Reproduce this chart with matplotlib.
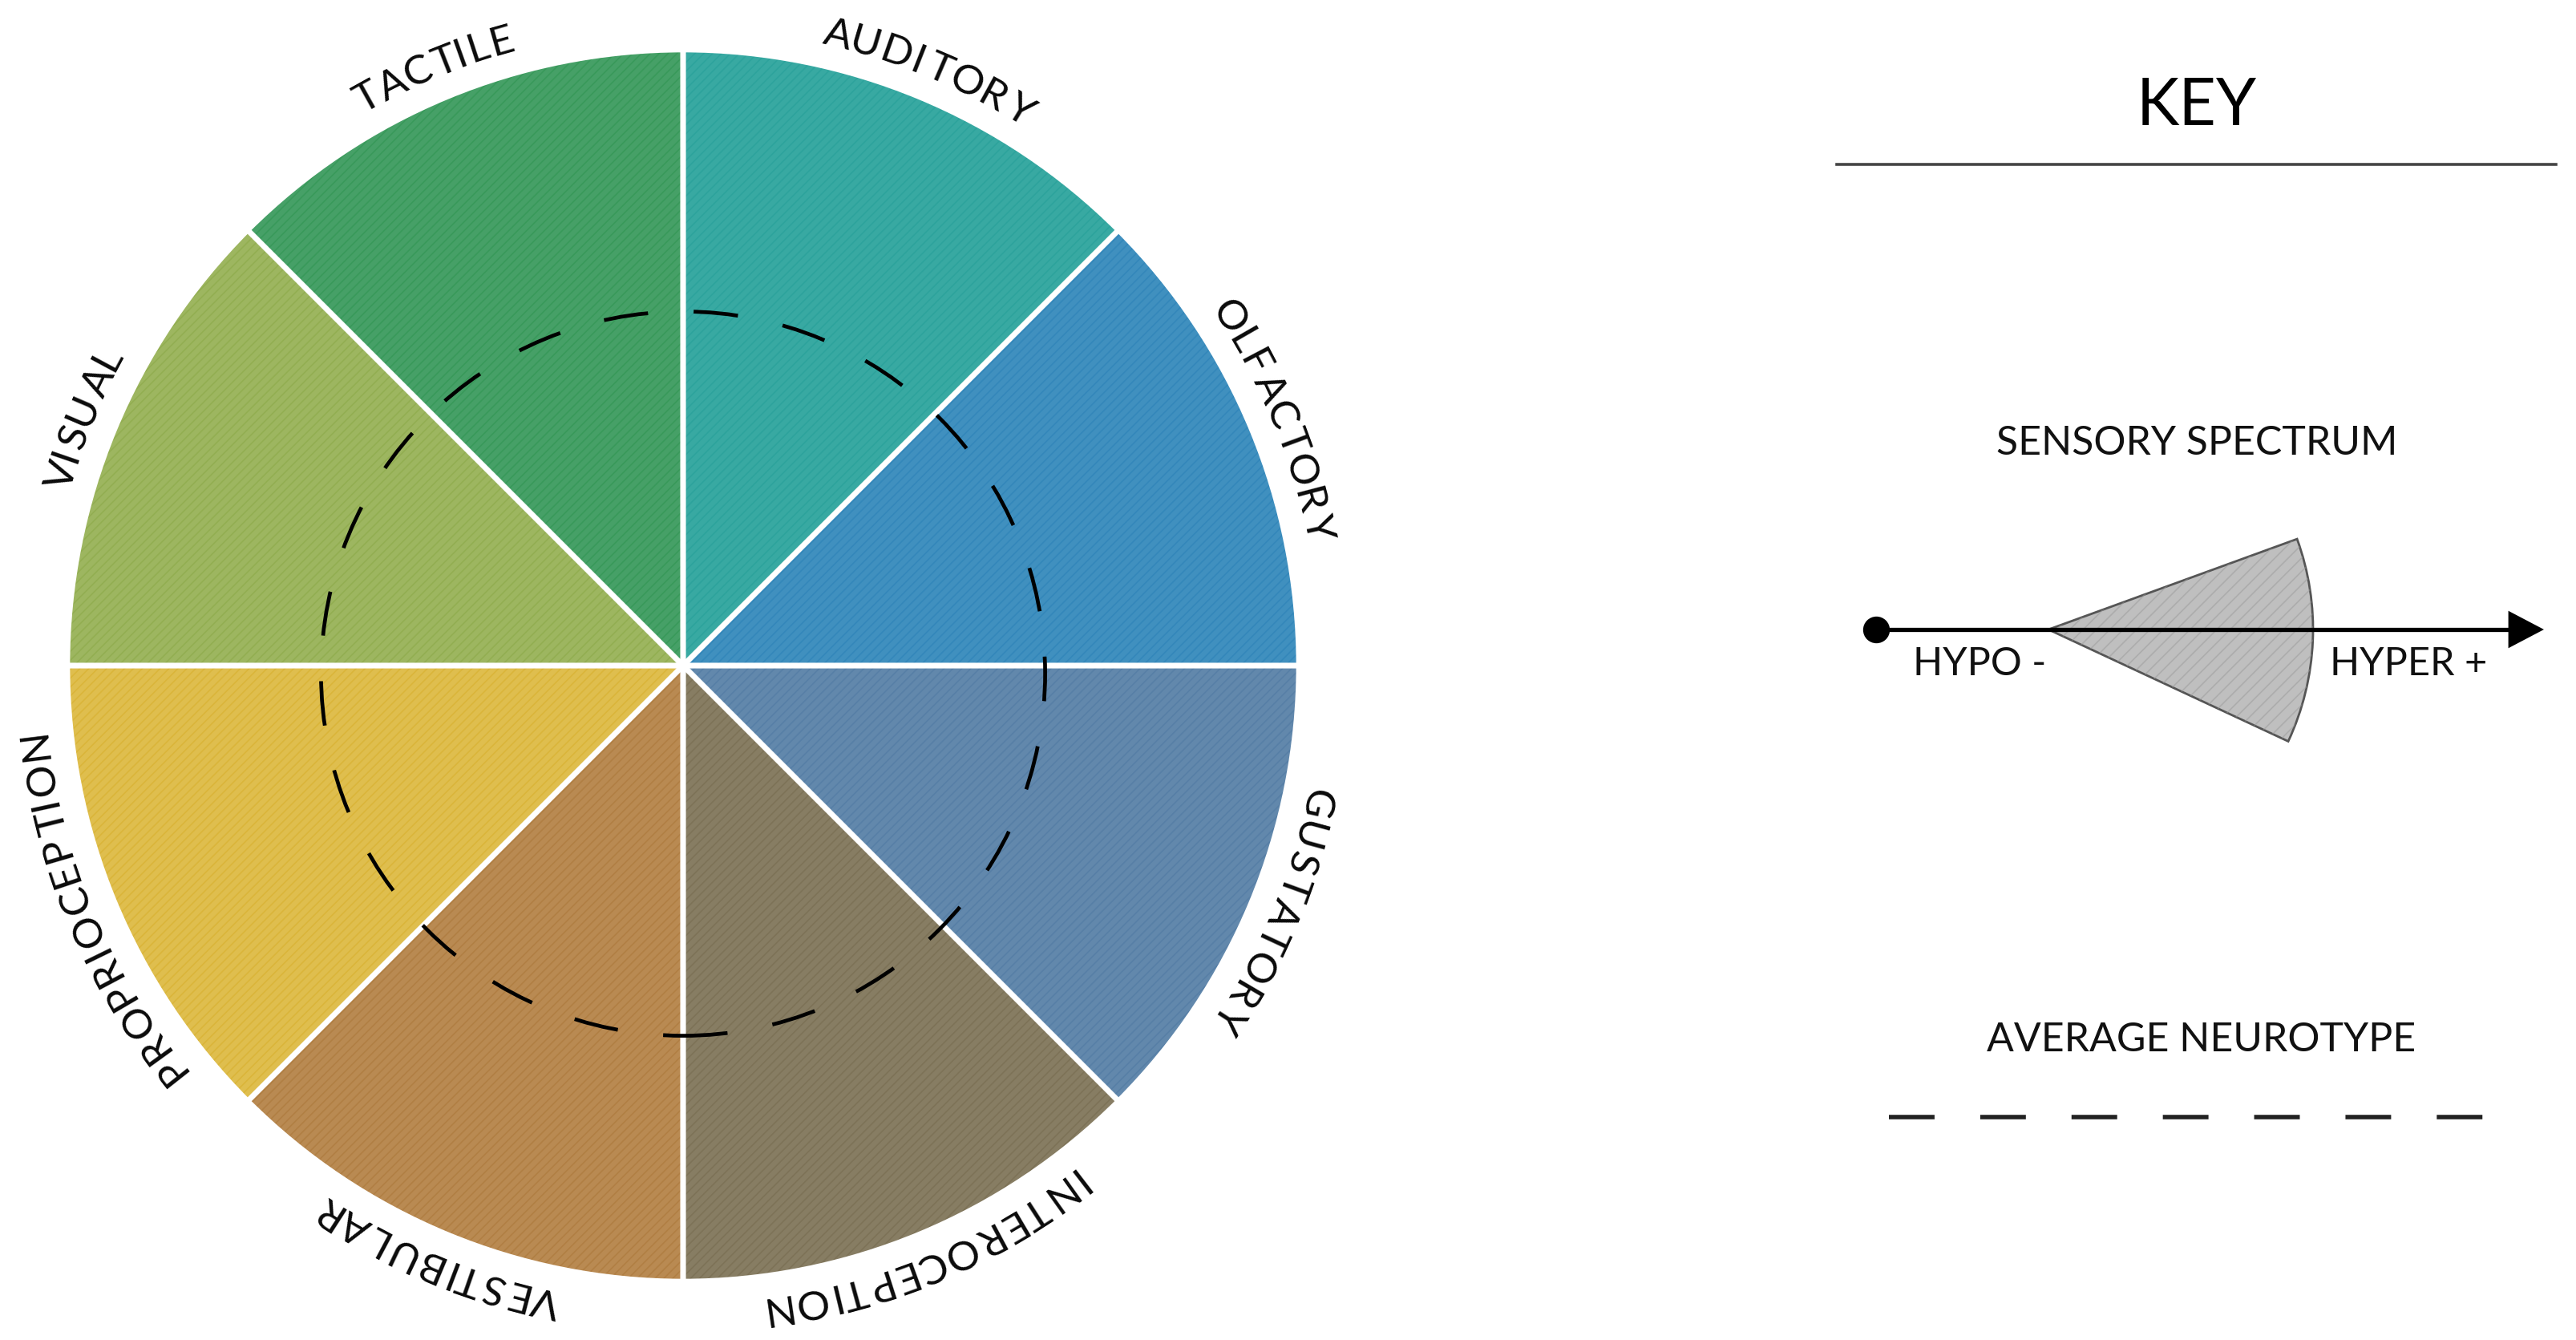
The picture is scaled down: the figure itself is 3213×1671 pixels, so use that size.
import numpy as np
import matplotlib
matplotlib.use("Agg")
import matplotlib.pyplot as plt
from matplotlib.patches import Wedge, Circle
from matplotlib.font_manager import FontProperties, findfont
from matplotlib.ft2font import FT2Font

FONT = ["Lato", "DejaVu Sans"]
plt.rcParams['font.family'] = FONT

# data
senses = ['AUDITORY', 'OLFACTORY', 'GUSTATORY', 'INTEROCEPTION',
          'VESTIBULAR', 'PROPRIOCEPTION', 'VISUAL', 'TACTILE']
share = [1, 1, 1, 1, 1, 1, 1, 1]
colors = ['#38A9A2', '#4090BF', '#6288AC', '#877D63',
          '#B98A52', '#DFBE4E', '#9DB660', '#46A067']
hatch_colors = ['#249E98', '#2A80B6', '#4E78A2', '#756A4E',
                '#AA7638', '#D6AE2A', '#8AA846', '#2E9450']
average_level = 0.588          # dashed circle, fraction of full radius
key_title = 'KEY'
spectrum_title = 'SENSORY SPECTRUM'
spectrum_low = 'HYPO -'
spectrum_high = 'HYPER +'
average_title = 'AVERAGE NEUROTYPE'
spectrum_wedge = (-25, 20)     # degrees of the example wedge

W, H = 3213, 1671
DPI = 200


def Y(py):
    return H - py


fig = plt.figure(figsize=(W / DPI, H / DPI), dpi=DPI)
ax = fig.add_axes([0, 0, 1, 1])

cx, cy, R = 852, Y(830), 768

# base wheel
ax.pie(share, colors=colors, startangle=90, counterclock=False,
       center=(cx, cy), radius=R, frame=True,
       wedgeprops=dict(linewidth=0))
# pencil texture
plt.rcParams['hatch.linewidth'] = 0.6
hw, _ = ax.pie(share, colors=['none'] * 8, startangle=90, counterclock=False,
               center=(cx, cy), radius=R, frame=True,
               wedgeprops=dict(linewidth=0))
for w, hc in zip(hw, hatch_colors):
    w.set_hatch('//////')
    w.set_edgecolor(hc)
    w.set_alpha(0.55)
# white separators
ax.pie(share, colors=['none'] * 8, startangle=90, counterclock=False,
       center=(cx, cy), radius=R, frame=True,
       wedgeprops=dict(linewidth=2.4, edgecolor='white', facecolor='none'))
ax.set_xlim(0, W)
ax.set_ylim(0, H)
ax.axis('off')

# average neurotype ring
lw = 1.7
ax.add_patch(Circle((cx, cy - 10), R * average_level, fill=False, color='black',
                    linewidth=lw, linestyle=(0, (20 / lw, 20.5 / lw)), zorder=5))

# curved labels, one glyph at a time
fig.canvas.draw()
renderer = fig.canvas.get_renderer()
label_size = 18.5
fp = FontProperties(family=FONT, size=label_size)
ft = FT2Font(findfont(fp))
ft.set_size(label_size, DPI)
r_base = 795
gap = 2.0


def glyph_w(ch):
    return renderer.get_text_width_height_descent(ch, fp, ismath=False)[0]


def glyph_off(ch):
    # agg shifts the glyph by its left bearing without rotating that shift
    ft.set_text(ch, 0.0)
    return ft.get_bitmap_offset()[0] / 64.0


for i, name in enumerate(senses):
    mid = 90 - 45 * i - 22.5
    gw = [glyph_w(ch) for ch in name]
    total = sum(gw) + gap * (len(name) - 1)
    pos = 0.0
    for k, ch in enumerate(name):
        s = pos + gw[k] / 2 - total / 2
        pos += gw[k] + gap
        th = mid - np.degrees(s / r_base)
        x = cx + r_base * np.cos(np.radians(th)) - glyph_off(ch)
        y = cy + r_base * np.sin(np.radians(th))
        ax.text(x, y, ch, fontproperties=fp, rotation=th - 90,
                rotation_mode='anchor', ha='center', va='baseline',
                color='#0A0A0A')

# key
kx = 2740
ax.text(kx, Y(133), key_title, fontsize=29, ha='center', va='center', color='black')
ax.plot([2291, 3188], [Y(205), Y(205)], color='#444444', linewidth=1.3)

ax.text(kx, Y(553), spectrum_title, fontsize=18, ha='center', va='center', color='#111111')

ay = Y(785)
ax.add_patch(Wedge((2555, ay), 330, spectrum_wedge[0], spectrum_wedge[1],
                   facecolor='#BFBFBF', edgecolor='#555555', linewidth=1.0, zorder=3))
tex = Wedge((2555, ay), 330, spectrum_wedge[0], spectrum_wedge[1],
            facecolor='none', edgecolor='#9A9A9A', linewidth=0, hatch='////', zorder=3)
tex.set_alpha(0.5)
ax.add_patch(tex)
ax.plot([2340, 3135], [ay, ay], color='black', linewidth=1.9, zorder=4)
ax.plot([2340], [ay], 'o', color='black', markersize=11, zorder=4)
ax.fill([3130, 3170, 3130], [ay + 21, ay, ay - 21], color='black', zorder=4)
ax.text(2469, Y(828), spectrum_low, fontsize=17.5, ha='center', va='center', color='#111111')
ax.text(3004, Y(828), spectrum_high, fontsize=17.5, ha='center', va='center', color='#111111')

ax.text(2746, Y(1297), average_title, fontsize=18, ha='center', va='center', color='#111111')
lw2 = 2.0
ax.plot([2356, 3106], [Y(1393), Y(1393)], color='#222222', linewidth=lw2,
        linestyle=(0, (20.5 / lw2, 20.5 / lw2)))

fig.savefig('out.png', dpi=DPI, facecolor='white')
